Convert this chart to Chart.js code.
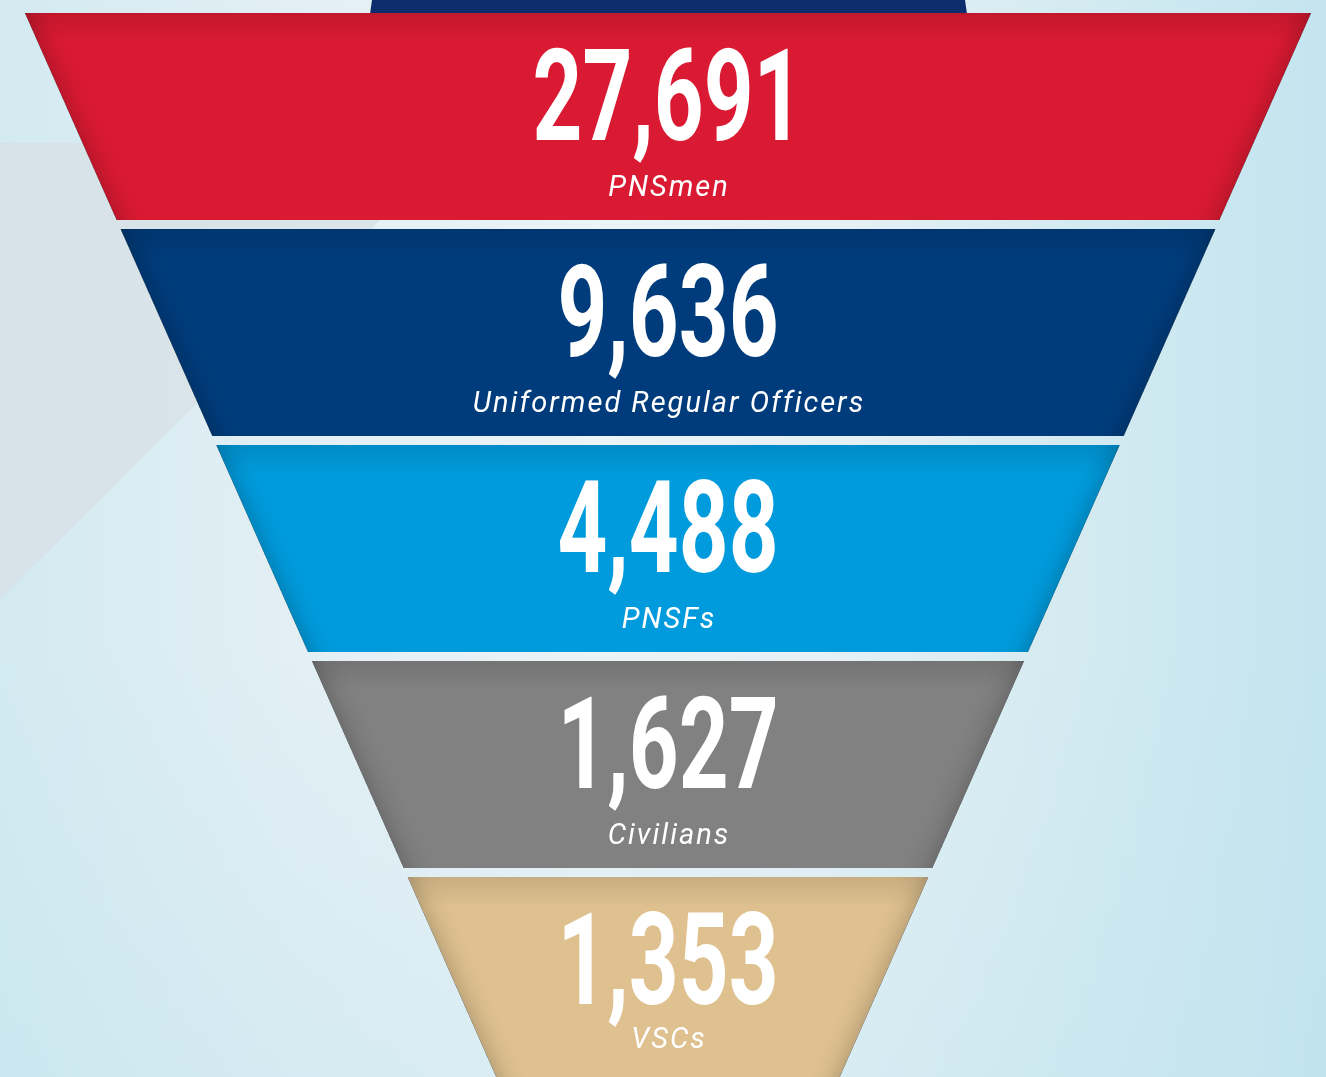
<!DOCTYPE html>
<html>
<head>
<meta charset="utf-8">
<script src="https://cdn.jsdelivr.net/npm/chart.js@4.4.1/dist/chart.umd.min.js"></script>
<style>
  html, body { margin: 0; padding: 0; width: 1326px; height: 1077px; overflow: hidden; }
  body {
    position: relative;
    background: linear-gradient(90deg, #d3eaf1 0%, #e2eff4 22%, #ebf4f7 45%, #e6f1f5 62%, #d3eaf1 82%, #c3e4ef 100%);
  }
  .layer { position: absolute; left: 0; top: 0; width: 1326px; height: 1077px; }
  #shade { background: linear-gradient(180deg, rgba(255,255,255,0) 0%, rgba(255,255,255,0) 60%, rgba(190,226,238,0.35) 100%); }
  #grey {
    background: linear-gradient(90deg, #d6e3e8 0%, #e0e7ea 60%, #e6eaec 100%);
    clip-path: polygon(0 143px, 460px 143px, 460px 140px, 0 600px);
  }
  #neck {
    background: #0d2c6b;
    clip-path: polygon(372px 0, 965px 0, 967px 14px, 370px 14px);
  }
  #wrap { position: absolute; left: 0; top: 0; width: 1326px; height: 1090px; }
</style>
</head>
<body>
<div class="layer" id="shade"></div>
<div class="layer" id="grey"></div>
<div class="layer" id="neck"></div>
<div id="wrap"><canvas id="c" width="1326" height="1090" style="width:1326px;height:1090px"></canvas></div>
<script>
// ---- data ----
const categories = ['PNSmen', 'Uniformed Regular Officers', 'PNSFs', 'Civilians', 'VSCs'];
const values = [27691, 9636, 4488, 1627, 1353];
const valueLabels = ['27,691', '9,636', '4,488', '1,627', '1,353'];

// ---- style ----
const bandColors = ['#d91a32', '#003c7b', '#009bdc', '#808180', '#dfc190'];
const APEX_BANDS = 6.72;   // depth of funnel apex measured in band pitches
const NUM_BASE = 0.613;    // number baseline as fraction of band height
const SUB_BASE = 0.883;    // subtitle baseline as fraction of band height
const VIEW_H = 1077;       // visible page height
const SUB_MARGIN = 29;     // keep subtitle this far above the visible bottom

const funnelPlugin = {
  id: 'funnel',
  beforeDatasetsDraw(chart) {
    const ctx = chart.ctx;
    const meta = chart.getDatasetMeta(0);
    const xs = chart.scales.x;
    const cx = xs.getPixelForValue(0);
    const halfTop = xs.getPixelForValue(1) - cx;
    const els = meta.data.map(e => e.getProps(['x', 'y', 'height'], true));
    const pitch = els[1].y - els[0].y;
    const top0 = els[0].y - els[0].height / 2;
    const apex = top0 + APEX_BANDS * pitch;
    const hw = y => halfTop * (apex - y) / (apex - top0);

    els.forEach((el, i) => {
      const t = el.y - el.height / 2;
      const b = el.y + el.height / 2;
      const h = el.height;
      ctx.save();
      ctx.beginPath();
      ctx.moveTo(cx - hw(t), t);
      ctx.lineTo(cx + hw(t), t);
      ctx.lineTo(cx + hw(b), b);
      ctx.lineTo(cx - hw(b), b);
      ctx.closePath();
      ctx.fillStyle = bandColors[i];
      ctx.fill();
      ctx.clip();
      // inner shadow along slanted sides
      const e = 80;
      ctx.beginPath();
      ctx.rect(-2000, -2000, 6000, 6000);
      ctx.moveTo(cx - hw(t - e), t - e);
      ctx.lineTo(cx - hw(b + e), b + e);
      ctx.lineTo(cx + hw(b + e), b + e);
      ctx.lineTo(cx + hw(t - e), t - e);
      ctx.closePath();
      ctx.shadowColor = 'rgba(0,0,0,0.28)';
      ctx.shadowBlur = 26;
      ctx.shadowOffsetX = 0;
      ctx.shadowOffsetY = 0;
      ctx.fillStyle = '#000';
      ctx.fill('evenodd');
      ctx.shadowColor = 'transparent';
      // top edge darkening
      const g = ctx.createLinearGradient(0, t, 0, t + 30);
      g.addColorStop(0, 'rgba(0,0,0,0.10)');
      g.addColorStop(1, 'rgba(0,0,0,0)');
      ctx.fillStyle = g;
      ctx.fillRect(cx - hw(t) - 5, t, 2 * hw(t) + 10, 30);
      ctx.restore();

      // value label
      ctx.save();
      ctx.fillStyle = '#ffffff';
      ctx.textAlign = 'center';
      ctx.textBaseline = 'alphabetic';
      ctx.translate(cx, t + NUM_BASE * h);
      ctx.scale(0.68, 1);
      ctx.font = 'bold 128px Roboto';
      ctx.fillText(valueLabels[i], 0, 0);
      ctx.restore();

      // category label
      ctx.save();
      ctx.fillStyle = '#ffffff';
      ctx.textAlign = 'center';
      ctx.textBaseline = 'alphabetic';
      ctx.font = 'italic 400 29px Roboto';
      ctx.letterSpacing = '2px';
      const sy = Math.min(t + SUB_BASE * h, VIEW_H - SUB_MARGIN);
      ctx.fillText(categories[i], cx + 1, sy);
      ctx.restore();
    });
    return false;
  }
};

new Chart(document.getElementById('c'), {
  type: 'bar',
  data: {
    labels: categories,
    datasets: [{
      data: values,
      xAxisID: 'xv',
      backgroundColor: bandColors,
      barPercentage: 207 / 216,
      categoryPercentage: 1
    }]
  },
  options: {
    indexAxis: 'y',
    responsive: false,
    animation: false,
    events: [],
    layout: { padding: { left: 25, right: 15, top: 8.5, bottom: 1.5 } },
    plugins: { legend: { display: false }, tooltip: { enabled: false } },
    scales: {
      y: { type: 'category', display: false, offset: true, grid: { display: false } },
      x: { type: 'linear', min: -1, max: 1, display: false },
      xv: { type: 'linear', min: 0, display: false }
    }
  },
  plugins: [funnelPlugin]
});
</script>
</body>
</html>
